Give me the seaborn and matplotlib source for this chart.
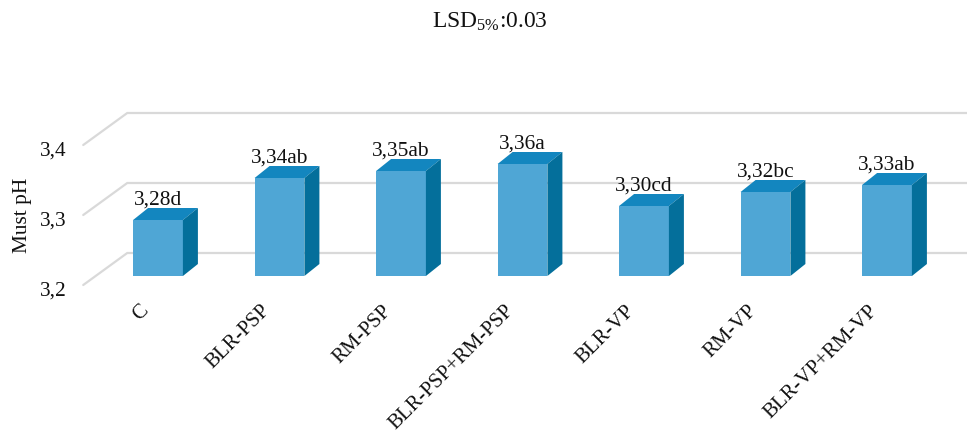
import matplotlib
matplotlib.use("Agg")
import matplotlib.pyplot as plt
import matplotlib.transforms as mtransforms
from matplotlib.patches import Polygon
from matplotlib.lines import Line2D
import seaborn as sns
import pandas as pd

# Data
treatments = ["C", "BLR-PSP", "RM-PSP", "BLR-PSP+RM-PSP", "BLR-VP", "RM-VP", "BLR-VP+RM-VP"]
must_ph = [3.28, 3.34, 3.35, 3.36, 3.30, 3.32, 3.33]
letters = ["d", "ab", "ab", "a", "cd", "bc", "ab"]
y_ticks = [3.2, 3.3, 3.4]
y_tick_labels = ["3,2", "3,3", "3,4"]

# Colours of the three visible faces of each column
FRONT = "#4FA6D5"
TOP = "#1386BF"
SIDE = "#046F9B"
GRID = "#D9D9D9"
TEXT = "#111111"

sns.set_theme(style="white")
plt.rcParams["font.family"] = ["Liberation Serif", "DejaVu Serif"]
plt.rcParams["mathtext.fontset"] = "custom"
plt.rcParams["mathtext.rm"] = "Liberation Serif"
FS = 15.4

W, H, DPI = 967, 434, 100
fig = plt.figure(figsize=(W / DPI, H / DPI), dpi=DPI, facecolor="white")

# Axes holds the front plane of the columns (pixel layout)
x_step = 121.5
ymin, ymax = 3.2, 3.45
px_per_unit = 700.0
ax_left_px = 158 - 0.5 * x_step
ax = fig.add_axes([ax_left_px / W, (H - 276) / H,
                   7 * x_step / W, (ymax - ymin) * px_per_unit / H])

df = pd.DataFrame({"treatment": treatments, "ph": must_ph})
sns.barplot(data=df, x="treatment", y="ph", order=treatments, color=FRONT,
            saturation=1, width=0.41, errorbar=None, ax=ax, zorder=3,
            linewidth=0)
ax.set_xlim(-0.5, 6.5)
ax.set_ylim(ymin, ymax)
for s in ax.spines.values():
    s.set_visible(False)
ax.set_facecolor("none")


def disp(x, y, dx=0.0, dy=0.0):
    px, py = ax.transData.transform((x, y))
    return (px + dx, py + dy)


ident = mtransforms.IdentityTransform()

# Depth offsets (pixels): side wall front edge, back wall, column depth
WALL_FRONT = (-14, -9)
WALL_BACK = (30, 23)
BAR_DEPTH = (15, 12)

# Gridlines on the side wall and back wall
for v in y_ticks:
    f = disp(-0.5, v, *WALL_FRONT)
    b = disp(-0.5, v, *WALL_BACK)
    ax.add_line(Line2D([f[0], b[0], W + 5], [f[1], b[1], b[1]], transform=ident,
                       color=GRID, lw=1.6, clip_on=False, zorder=1,
                       solid_joinstyle="miter"))

# Top and side faces of each column
for patch in ax.patches[:len(treatments)]:
    x0, y0 = patch.get_x(), max(patch.get_y(), ymin)
    w = patch.get_width()
    y1 = patch.get_y() + patch.get_height()
    dx, dy = BAR_DEPTH
    tl, tr = disp(x0, y1), disp(x0 + w, y1)
    br = disp(x0 + w, y0)
    top = [tl, tr, (tr[0] + dx, tr[1] + dy), (tl[0] + dx, tl[1] + dy)]
    side = [br, tr, (tr[0] + dx, tr[1] + dy), (br[0] + dx, br[1] + dy)]
    ax.add_patch(Polygon(top, closed=True, transform=ident, facecolor=TOP,
                         edgecolor="none", clip_on=False, zorder=4))
    ax.add_patch(Polygon(side, closed=True, transform=ident, facecolor=SIDE,
                         edgecolor="none", clip_on=False, zorder=4))

# Value labels with significance letters
for i, (v, let) in enumerate(zip(must_ph, letters)):
    ax.annotate(f"{v:.2f}".replace(".", ",") + let, xy=(i, v),
                xytext=(0, 15 * 0.72), textcoords="offset points",
                ha="center", va="baseline", fontsize=FS, color=TEXT, zorder=6)

# Y ticks on the side wall front edge
ax.set_yticks(y_ticks, y_tick_labels)
ax.tick_params(axis="y", length=0, pad=31 * 0.72, labelsize=FS, labelcolor=TEXT)
shift_y = mtransforms.ScaledTranslation(0, -13 / DPI, fig.dpi_scale_trans)
for lab in ax.get_yticklabels():
    lab.set_transform(lab.get_transform() + shift_y)

# Category labels, rotated
ax.set_xticks(range(len(treatments)), treatments)
ax.tick_params(axis="x", length=0, pad=32 * 0.72, labelsize=15, labelcolor=TEXT)
shift_x = mtransforms.ScaledTranslation(-12 / DPI, 0, fig.dpi_scale_trans)
for lab in ax.get_xticklabels():
    lab.set_rotation(45)
    lab.set_ha("right")
    lab.set_va("center")
    lab.set_rotation_mode("anchor")
    lab.set_transform(lab.get_transform() + shift_x)
ax.set_xlabel("")

ax.set_ylabel("Must pH", fontsize=FS, color=TEXT)
ax.yaxis.set_label_coords((32 - ax_left_px) / (7 * x_step), (H - 215 - 158) / 175.0)

fig.text(490 / W, 1 - 22 / H, r"$\mathregular{LSD_{5\%}}$:0.03",
         ha="center", va="center", fontsize=FS + 1.5, color=TEXT)

fig.savefig("out.png", dpi=DPI, facecolor="white")
